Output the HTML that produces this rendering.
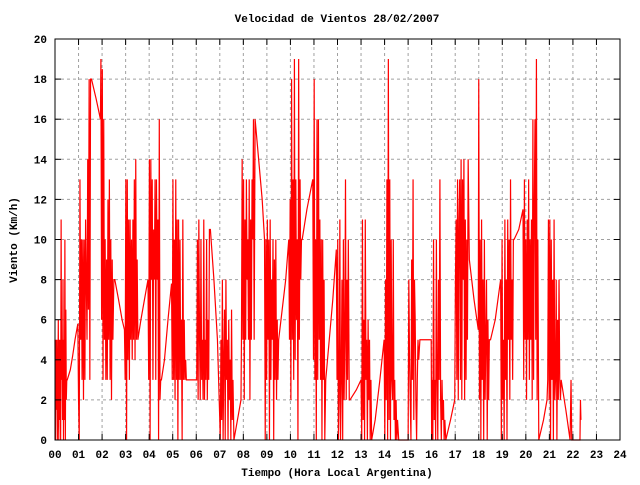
<!DOCTYPE html>
<html><head><meta charset="utf-8"><style>
html,body{margin:0;padding:0;background:#fff;}
svg text{font-family:"Liberation Mono",monospace;font-weight:bold;font-size:11px;fill:#000;}
</style></head><body>
<svg id="chart" width="640" height="480" xmlns="http://www.w3.org/2000/svg">
<rect width="640" height="480" fill="#fff"/>
<g id="grid"></g>
<g id="series"></g>
<g id="axes"></g>
<text x="337" y="22" text-anchor="middle">Velocidad de Vientos 28/02/2007</text>
<text x="337" y="476" text-anchor="middle">Tiempo (Hora Local Argentina)</text>
<text x="17" y="240" text-anchor="middle" transform="rotate(-90 17 240)">Viento (Km/h)</text>
</svg>
<script>
const xTickLabels = ["00","01","02","03","04","05","06","07","08","09","10","11","12","13","14","15","16","17","18","19","20","21","22","23","24"];
const yTickLabels = ["0","2","4","6","8","10","12","14","16","18","20"];
const times = [
0,.02,.04,.06,.08,.10,.12,.14,.16,.18,.20,.22,.24,.26,.28,.30,.32,.34,.36,.38,.40,.42,.44,.46,.48,.50,.52,
.65,.75,.85,.97,
1.0,1.03,1.06,1.09,1.12,1.15,1.18,1.21,1.24,1.27,1.30,1.33,1.36,1.39,1.42,1.45,1.48,1.51,1.55,
1.75,1.93,
1.95,1.98,2.01,2.04,2.07,2.10,2.13,2.16,2.19,2.22,2.25,2.28,2.31,2.34,2.37,2.40,2.43,2.46,2.50,2.54,
2.7,2.85,2.95,
2.98,3.01,3.04,3.07,3.10,3.13,3.16,3.19,3.22,3.25,3.28,3.31,3.34,3.37,3.40,3.43,3.46,3.49,3.52,
3.65,3.8,3.95,
3.98,4.01,4.04,4.07,4.10,4.13,4.16,4.19,4.22,4.25,4.28,4.31,4.34,4.37,4.40,4.43,4.46,4.49,4.52,
4.65,4.8,4.95,
4.98,5.01,5.04,5.07,5.10,5.13,5.16,5.19,5.22,5.25,5.28,5.31,5.34,5.37,5.40,5.43,5.46,5.49,5.52,5.55,5.58,
6.0,
6.02,6.05,6.08,6.11,6.14,6.17,6.20,6.23,6.26,6.29,6.32,6.35,6.38,6.41,6.44,6.47,6.50,6.53,6.56,6.60,
6.75,6.9,7.0,
7.02,7.05,7.08,7.11,7.14,7.17,7.20,7.23,7.26,7.29,7.32,7.35,7.38,7.41,7.44,7.47,7.50,7.53,7.56,7.6,
7.75,7.9,
7.92,7.95,7.98,8.01,8.04,8.07,8.10,8.13,8.16,8.19,8.22,8.25,8.28,8.31,8.34,8.37,8.40,8.43,8.46,8.5,
8.65,8.8,8.9,
8.93,8.96,8.99,9.02,9.05,9.08,9.11,9.14,9.17,9.20,9.23,9.26,9.29,9.32,9.35,9.38,9.41,9.44,9.47,9.5,
9.65,9.8,9.93,
9.96,9.99,10.02,10.05,10.08,10.11,10.14,10.17,10.20,10.23,10.26,10.29,10.32,10.35,10.38,10.41,10.44,10.47,10.5,
10.7,10.95,
10.98,11.01,11.04,11.07,11.10,11.13,11.16,11.19,11.22,11.25,11.28,11.31,11.34,11.37,11.40,11.43,11.46,11.5,
11.65,11.8,11.95,
11.98,12.01,12.04,12.07,12.10,12.13,12.16,12.19,12.22,12.25,12.28,12.31,12.34,12.37,12.40,12.43,12.46,12.5,12.53,
12.8,13.0,
13.03,13.06,13.09,13.12,13.15,13.18,13.21,13.24,13.27,13.30,13.33,13.36,13.39,13.42,13.45,
13.6,13.8,13.98,
14.01,14.04,14.07,14.10,14.13,14.16,14.19,14.22,14.25,14.28,14.31,14.34,14.37,14.40,14.43,14.46,14.49,14.52,14.55,14.6,
15.0,15.03,15.06,15.09,15.12,15.15,15.18,15.21,15.24,15.27,15.30,15.33,15.36,15.39,15.42,15.45,15.5,
15.98,16.0,
16.02,16.05,16.08,16.11,16.14,16.17,16.20,16.23,16.26,16.29,16.32,16.35,16.38,16.41,16.44,16.47,16.50,16.53,16.56,16.6,
16.8,16.98,
17.01,17.04,17.07,17.10,17.13,17.16,17.19,17.22,17.25,17.28,17.31,17.34,17.37,17.40,17.43,17.46,17.49,17.52,17.55,17.6,
17.8,17.98,
18.0,18.03,18.06,18.09,18.12,18.15,18.18,18.21,18.24,18.27,18.30,18.33,18.36,18.39,18.42,18.45,18.5,
18.7,18.93,
18.96,18.99,19.02,19.05,19.08,19.11,19.14,19.17,19.20,19.23,19.26,19.29,19.32,19.35,19.38,19.41,19.44,19.47,19.5,
19.7,19.88,
19.91,19.94,19.97,20.0,20.03,20.06,20.09,20.12,20.15,20.18,20.21,20.24,20.27,20.30,20.33,20.36,20.39,20.42,20.45,20.48,20.51,20.55,
20.75,20.9,
20.93,20.96,20.99,21.02,21.05,21.08,21.11,21.14,21.17,21.20,21.23,21.26,21.29,21.32,21.35,21.38,21.41,21.44,21.47,21.5,
21.7,21.88,
21.92,21.95,22.3,22.32,22.34
];
const speeds = [
5,0,5,1.5,5,0,2,6,0,5,1,5,0,11,3,5,1,8,0,5,1,10,0,6.5,2,3,3,
3.5,4.2,5,5.8,
2,0,13,5,10,3,10,2,10,3,11,8,5,14,6.5,18,3,18,18,
17,16,
19,6,18.5,3,16,5,10,3,9,3,12,5,13,3,10,2,9,5,8,8,
7,6,5.5,
3,13,0,13,4,11,3,11,5,10,4,11,5,13,4,14,5,9,5,
6,7,8,
3,14,0,14,8,13,3,10.5,8,13,3,13,8,11,0,16,2,3,3,
4,6,7.8,
3,13,3,10,2,13,3,11,0,11,3,10,3,6,0,11,3,6,3,4,3,
3,
3,10,2,11,5,2,10,3,5,2,11,2,5,3,10,2,6,3,10.5,10.5,
8,5,1,
0,5,1,8,0,4,6.5,0,8,3,5,0,6,2,4,0,6.5,1,3,0,
1,2,
5,14,5,13,2,11,5,13,8,10,5,13,2,11,5,13,10,16,5,16,
14,12,10,
0,10,3,11,5,10,0,11,3,8,5,10,0,9,3,10,2,6,3,5,
6.5,8,10,
5,12,2,18,5,13,3,19,4,13,6,10,0,19,5,13,8,10,10,
11.5,13,
4,18,3,10,0,16,3,16,5,11,3,10,0,10,3,8,0,3,
5,7,9.5,
3,10,0,2,11,0,3,8,0,10,2,5,13,2,8,3,10,2,2,
2.5,3,
0,11,1,6,0,11,3,5,0,6,2,5,0,3,0,
1,3,5,
0,8,2,13,0,19,1,13,0,10,3,2,10,1,3,0,2,0,1,0,
0,8,4,2,0,9,3,13,1,8,6,2,0,3,5,4,5,
5,0,
3,0,10,1,3,0,10,3,0,8,3,13,2,0,3,1,2,0,1,0,
1,2,
8,11,3,13,2,11,13,3,14,2,13,8,14,2,11,3,10,5,14,9,
7,5.5,
18,2,10,0,11,3,8,0,10,2,5,8,0,6,2,5,5,
6,8,
0,10,2,5,0,11,3,8,0,11,5,10,2,13,5,8,3,10,10,
10.5,11.5,
3,13,5,10,2,11,5,13,3,10,5,11,2,16,3,12,16,5,19,2,10,0,
1,2,
3,11,2,11,0,10,3,8,0,11,2,3,8,0,6,2,8,3,2,3,
1.5,0,
3,0,0,2,1
];
const X0=55, X1=620, Y0=440, Y1=39, XMAX=24, YMAX=20;
function xs(h){return X0+(X1-X0)*h/XMAX;}
function ys(v){return Y0-(Y0-Y1)*v/YMAX;}
const NS="http://www.w3.org/2000/svg";
const grid=document.getElementById('grid'), axes=document.getElementById('axes'), series=document.getElementById('series');
function mk(tag,attrs,parent){const e=document.createElementNS(NS,tag);for(const k in attrs)e.setAttribute(k,attrs[k]);parent.appendChild(e);return e;}
xTickLabels.forEach((lab,i)=>{
  const x=xs(i);
  if(i>0&&i<xTickLabels.length-1){
    const g=mk('line',{x1:x,y1:Y0,x2:x,y2:Y1,stroke:'#a0a0a0','stroke-dasharray':'3,3','stroke-width':1},grid);
    
    
  }
  const t1=mk('line',{x1:x,y1:Y0,x2:x,y2:Y0-6,stroke:'#000'},axes);
  
  
  const t2=mk('line',{x1:x,y1:Y1,x2:x,y2:Y1+6,stroke:'#000'},axes);
  
  
  const tx=mk('text',{x:x,y:458,'text-anchor':'middle'},axes);
  tx.textContent=lab;
  
  
});
yTickLabels.forEach((lab,i)=>{
  const y=ys(Number(lab));
  if(i>0&&i<yTickLabels.length-1){
    const g=mk('line',{x1:X0,y1:y,x2:X1,y2:y,stroke:'#a0a0a0','stroke-dasharray':'3,3','stroke-width':1},grid);
    
    
  }
  const t1=mk('line',{x1:X0,y1:y,x2:X0+6,y2:y,stroke:'#000'},axes);
  
  
  const t2=mk('line',{x1:X1,y1:y,x2:X1-6,y2:y,stroke:'#000'},axes);
  
  
  const tx=mk('text',{x:47,y:y+4,'text-anchor':'end'},axes);
  tx.textContent=lab;
  
  
});
const border=mk('rect',{x:X0,y:Y1,width:X1-X0,height:Y0-Y1,fill:'none',stroke:'#000','stroke-width':1},axes);


let d='';
for(let i=0;i<times.length&&i<speeds.length;i++){d+=(i?'L':'M')+xs(times[i]).toFixed(2)+','+ys(speeds[i]).toFixed(2);}
const line=mk('path',{d:d,fill:'none',stroke:'#ff0000','stroke-width':1.2},series);


</script>
</body></html>
